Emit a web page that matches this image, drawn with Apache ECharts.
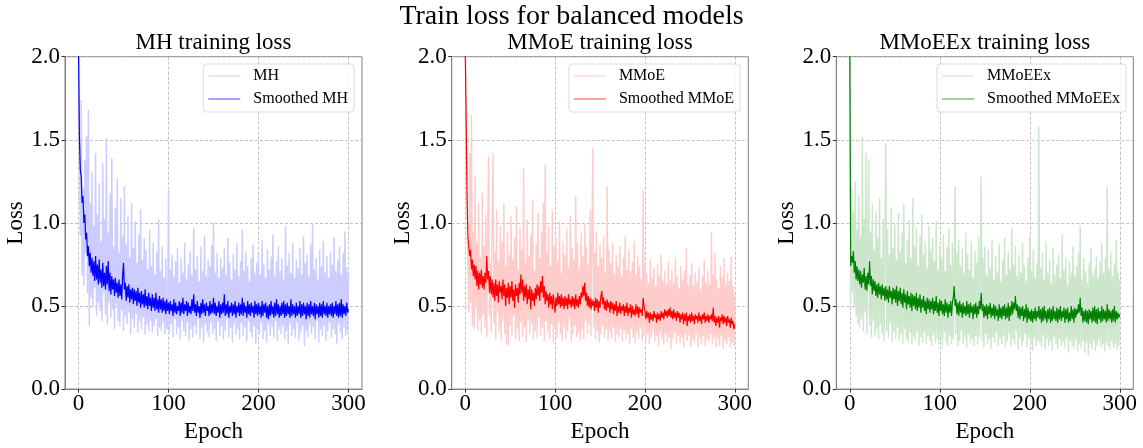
<!DOCTYPE html>
<html>
<head>
<meta charset="utf-8">
<title>Train loss for balanced models</title>
<script src="https://cdn.jsdelivr.net/npm/echarts@6/dist/echarts.min.js"></script>
<style>
  html, body { margin: 0; padding: 0; background: #fff; }
  #chart { width: 1143px; height: 448px; }
</style>
</head>
<body>
<div id="chart"></div>
<script>
// Per-epoch training loss (index = epoch, 0..300)
const epochTicks = [0, 100, 200, 300];
const lossTicks = [0, 0.5, 1.0, 1.5, 2.0];

const mhRaw = [
  2.40,
  1.45, 0.92, 1.74, 0.68, 1.21, 0.62, 1.38, 0.81, 1.52, 0.58,
  1.68, 0.38, 1.12, 0.55, 1.31, 0.49, 0.98, 0.61, 1.42, 0.44,
  1.05, 0.52, 1.24, 0.47, 0.89, 0.41, 1.36, 0.58, 1.02, 0.45,
  1.51, 0.39, 0.94, 0.52, 1.18, 0.43, 1.39, 0.48, 0.86, 0.36,
  1.09, 0.51, 1.27, 0.41, 0.82, 0.38, 1.15, 0.47, 0.92, 0.35,
  1.22, 0.44, 0.87, 0.39, 1.04, 0.46, 0.79, 0.33, 1.12, 0.42,
  0.85, 0.37, 1.01, 0.45, 0.76, 0.34, 0.93, 0.41, 1.08, 0.36,
  0.78, 0.43, 0.91, 0.33, 0.84, 0.39, 0.72, 0.35, 0.96, 0.41,
  0.74, 0.34, 0.88, 0.38, 0.69, 0.42, 0.83, 0.32, 1.02, 0.37,
  0.71, 0.35, 0.86, 0.40, 0.67, 0.33, 0.79, 0.38, 0.36, 1.20,
  0.34, 0.72, 0.39, 0.81, 0.31, 0.68, 0.42, 0.77, 0.33, 0.85,
  0.37, 0.64, 0.30, 0.79, 0.41, 0.70, 0.35, 0.88, 0.32, 0.66,
  0.40, 0.75, 0.29, 0.83, 0.36, 0.69, 0.31, 0.97, 0.38, 0.72,
  0.33, 0.80, 0.42, 0.65, 0.30, 0.86, 0.37, 0.71, 0.28, 0.92,
  0.39, 0.68, 0.34, 0.78, 0.31, 0.74, 0.40, 0.87, 0.33, 1.00,
  0.36, 0.70, 0.29, 0.82, 0.41, 0.67, 0.32, 0.79, 0.38, 0.73,
  0.30, 0.85, 0.35, 0.69, 0.42, 0.91, 0.31, 0.76, 0.37, 0.66,
  0.28, 0.81, 0.39, 0.72, 0.33, 0.88, 0.36, 0.68, 0.30, 0.77,
  0.40, 0.96, 0.32, 0.71, 0.37, 0.83, 0.29, 0.74, 0.41, 0.65,
  0.34, 0.79, 0.31, 0.87, 0.38, 0.70, 0.27, 0.76, 0.36, 0.82,
  0.33, 0.69, 0.40, 0.90, 0.30, 0.75, 0.35, 0.67, 0.28, 0.84,
  0.39, 0.72, 0.32, 0.80, 0.37, 0.93, 0.31, 0.68, 0.41, 0.77,
  0.29, 0.86, 0.36, 0.71, 0.33, 0.79, 0.38, 0.66, 0.30, 0.98,
  0.35, 0.74, 0.27, 0.82, 0.39, 0.70, 0.32, 0.88, 0.36, 0.67,
  0.31, 0.78, 0.40, 0.73, 0.29, 0.85, 0.34, 0.69, 0.38, 0.92,
  0.26, 0.76, 0.35, 0.81, 0.31, 0.68, 0.39, 0.87, 0.33, 0.99,
  0.37, 0.72, 0.30, 0.79, 0.41, 0.66, 0.28, 0.84, 0.36, 0.74,
  0.32, 0.89, 0.38, 0.70, 0.29, 0.80, 0.35, 0.67, 0.40, 0.83,
  0.31, 0.75, 0.36, 0.91, 0.33, 0.71, 0.27, 0.78, 0.39, 0.86,
  0.34, 0.69, 0.30, 0.82, 0.37, 0.95, 0.32, 0.73, 0.35, 0.70
];

const mhSmoothed = [
  2.05, 1.52, 1.32, 1.28, 1.12, 1.16, 1.00, 1.05, 0.90, 0.94, 0.80,
  0.86, 0.74, 0.82, 0.70, 0.79, 0.68, 0.77, 0.65, 0.80, 0.66,
  0.75, 0.63, 0.78, 0.64, 0.72, 0.61, 0.76, 0.62, 0.70, 0.60,
  0.74, 0.63, 0.77, 0.59, 0.70, 0.57, 0.68, 0.60, 0.66, 0.56,
  0.67, 0.58, 0.64, 0.55, 0.66, 0.56, 0.63, 0.54, 0.68, 0.76,
  0.60, 0.64, 0.53, 0.62, 0.55, 0.63, 0.52, 0.60, 0.54, 0.61,
  0.51, 0.60, 0.53, 0.59, 0.50, 0.61, 0.52, 0.58, 0.49, 0.59,
  0.51, 0.57, 0.49, 0.60, 0.50, 0.56, 0.48, 0.58, 0.50, 0.55,
  0.47, 0.57, 0.49, 0.55, 0.47, 0.58, 0.48, 0.54, 0.46, 0.56,
  0.48, 0.54, 0.46, 0.55, 0.47, 0.53, 0.45, 0.54, 0.47, 0.52,
  0.45, 0.53, 0.47, 0.51, 0.44, 0.54, 0.46, 0.52, 0.45, 0.50,
  0.47, 0.53, 0.44, 0.52, 0.46, 0.55, 0.45, 0.51, 0.47, 0.53,
  0.44, 0.52, 0.46, 0.50, 0.45, 0.54, 0.47, 0.57, 0.46, 0.51,
  0.44, 0.53, 0.46, 0.50, 0.43, 0.52, 0.45, 0.54, 0.46, 0.51,
  0.44, 0.52, 0.47, 0.50, 0.44, 0.53, 0.45, 0.51, 0.46, 0.55,
  0.45, 0.52, 0.44, 0.50, 0.46, 0.53, 0.43, 0.51, 0.45, 0.52,
  0.46, 0.57, 0.44, 0.51, 0.45, 0.53, 0.43, 0.50, 0.46, 0.52,
  0.44, 0.51, 0.45, 0.53, 0.43, 0.50, 0.46, 0.52, 0.44, 0.51,
  0.45, 0.55, 0.44, 0.52, 0.46, 0.50, 0.43, 0.53, 0.45, 0.51,
  0.44, 0.52, 0.46, 0.50, 0.43, 0.53, 0.45, 0.51, 0.44, 0.52,
  0.45, 0.50, 0.43, 0.53, 0.44, 0.51, 0.46, 0.52, 0.43, 0.50,
  0.42, 0.51, 0.44, 0.53, 0.45, 0.50, 0.43, 0.52, 0.44, 0.54,
  0.45, 0.51, 0.43, 0.50, 0.44, 0.52, 0.45, 0.53, 0.43, 0.51,
  0.44, 0.52, 0.45, 0.50, 0.43, 0.54, 0.44, 0.51, 0.45, 0.50,
  0.43, 0.52, 0.44, 0.50, 0.45, 0.53, 0.43, 0.51, 0.44, 0.52,
  0.45, 0.50, 0.42, 0.52, 0.44, 0.51, 0.43, 0.53, 0.45, 0.50,
  0.44, 0.52, 0.42, 0.51, 0.45, 0.50, 0.43, 0.52, 0.44, 0.51,
  0.43, 0.53, 0.45, 0.50, 0.44, 0.52, 0.43, 0.50, 0.45, 0.51,
  0.44, 0.52, 0.43, 0.50, 0.45, 0.53, 0.44, 0.51, 0.43, 0.52,
  0.44, 0.54, 0.43, 0.51, 0.45, 0.50, 0.44, 0.52, 0.46, 0.48
];

const mmoeRaw = [
  2.50,
  1.62, 1.18, 0.74, 0.46, 1.42, 0.52, 1.65, 0.38, 0.95, 0.36,
  1.28, 0.48, 0.88, 0.35, 1.12, 0.42, 0.79, 0.33, 1.18, 0.45,
  0.86, 0.37, 1.05, 0.31, 0.92, 1.40, 0.44, 0.76, 0.34, 1.02,
  1.42, 0.39, 0.83, 0.30, 1.08, 0.46, 0.77, 0.35, 0.98, 0.29,
  0.89, 0.41, 1.12, 0.33, 0.74, 0.27, 0.95, 0.26, 0.81, 0.38,
  1.04, 0.32, 0.78, 0.44, 0.91, 0.30, 1.10, 0.36, 0.72, 0.29,
  0.97, 0.40, 0.84, 0.31, 1.33, 0.37, 0.76, 0.28, 1.02, 0.42,
  0.80, 0.33, 0.93, 0.39, 1.14, 0.30, 0.71, 0.35, 0.88, 0.31,
  1.06, 0.43, 0.79, 0.32, 0.95, 0.37, 1.12, 0.29, 1.35, 0.41,
  0.82, 0.34, 0.98, 0.30, 0.74, 0.39, 1.07, 0.28, 0.86, 0.36,
  0.92, 0.31, 0.77, 0.40, 1.01, 0.33, 0.70, 0.29, 0.89, 0.37,
  0.81, 0.30, 0.96, 0.35, 0.73, 0.42, 1.04, 0.28, 0.85, 0.33,
  0.78, 0.38, 1.16, 0.31, 0.88, 0.34, 0.72, 0.29, 0.94, 0.36,
  0.80, 0.30, 0.99, 0.41, 0.86, 0.33, 0.75, 0.39, 1.08, 0.32,
  0.91, 1.45, 0.37, 0.82, 0.30, 0.95, 0.35, 0.74, 0.28, 0.87,
  0.33, 0.79, 0.38, 0.92, 0.31, 0.70, 0.36, 1.22, 0.29, 0.84,
  0.34, 0.76, 0.30, 0.88, 0.37, 0.69, 0.28, 0.81, 0.33, 0.74,
  0.31, 0.86, 0.36, 0.68, 0.29, 0.79, 0.35, 0.92, 0.30, 0.72,
  0.33, 0.84, 0.27, 0.71, 0.36, 0.77, 0.31, 0.89, 0.28, 0.69,
  0.34, 0.80, 0.30, 0.74, 0.37, 0.66, 0.29, 1.20, 0.32, 0.76,
  0.28, 0.70, 0.33, 0.64, 0.27, 0.78, 0.31, 0.67, 0.35, 0.73,
  0.29, 0.62, 0.32, 0.75, 0.26, 0.68, 0.34, 0.81, 0.30, 0.65,
  0.27, 0.71, 0.33, 0.63, 0.28, 0.77, 0.31, 0.66, 0.24, 0.72,
  0.30, 0.64, 0.34, 0.79, 0.27, 0.68, 0.32, 0.61, 0.28, 0.74,
  0.31, 0.66, 0.25, 0.71, 0.33, 0.85, 0.29, 0.63, 0.32, 0.69,
  0.26, 0.76, 0.30, 0.62, 0.28, 0.70, 0.33, 0.65, 0.25, 0.73,
  0.31, 0.60, 0.27, 0.68, 0.32, 0.78, 0.26, 0.64, 0.30, 0.71,
  0.28, 0.63, 0.33, 0.95, 0.27, 0.69, 0.31, 0.82, 0.25, 0.66,
  0.30, 0.61, 0.26, 0.74, 0.32, 0.67, 0.24, 0.79, 0.29, 0.63,
  0.27, 0.70, 0.31, 0.65, 0.25, 0.80, 0.28, 0.62, 0.26, 0.58
];

const mmoeSmoothed = [
  2.05, 1.65, 1.20, 0.92, 0.86, 0.80, 0.84, 0.72, 0.78, 0.68, 0.75,
  0.66, 0.74, 0.62, 0.71, 0.60, 0.70, 0.63, 0.72, 0.61, 0.68,
  0.60, 0.70, 0.64, 0.80, 0.66, 0.71, 0.58, 0.68, 0.57, 0.66,
  0.55, 0.64, 0.53, 0.66, 0.56, 0.63, 0.52, 0.65, 0.58, 0.62,
  0.54, 0.66, 0.56, 0.63, 0.50, 0.61, 0.55, 0.64, 0.51, 0.62,
  0.55, 0.65, 0.53, 0.60, 0.49, 0.63, 0.56, 0.61, 0.52, 0.64,
  0.57, 0.69, 0.58, 0.66, 0.53, 0.62, 0.55, 0.63, 0.51, 0.60,
  0.54, 0.62, 0.48, 0.60, 0.53, 0.58, 0.50, 0.61, 0.54, 0.63,
  0.56, 0.62, 0.53, 0.65, 0.58, 0.68, 0.55, 0.62, 0.51, 0.59,
  0.53, 0.57, 0.49, 0.58, 0.51, 0.56, 0.48, 0.57, 0.52, 0.46,
  0.55, 0.50, 0.58, 0.51, 0.56, 0.49, 0.57, 0.50, 0.55, 0.48,
  0.56, 0.50, 0.55, 0.48, 0.57, 0.51, 0.54, 0.49, 0.56, 0.50,
  0.55, 0.48, 0.57, 0.50, 0.54, 0.49, 0.56, 0.51, 0.58, 0.55,
  0.62, 0.56, 0.64, 0.53, 0.58, 0.50, 0.56, 0.49, 0.55, 0.48,
  0.54, 0.50, 0.53, 0.47, 0.55, 0.49, 0.54, 0.46, 0.53, 0.49,
  0.56, 0.59, 0.51, 0.55, 0.48, 0.53, 0.47, 0.54, 0.49, 0.52,
  0.46, 0.53, 0.48, 0.52, 0.45, 0.51, 0.47, 0.53, 0.44, 0.50,
  0.46, 0.52, 0.45, 0.50, 0.47, 0.51, 0.44, 0.50, 0.46, 0.52,
  0.44, 0.49, 0.46, 0.51, 0.43, 0.50, 0.45, 0.48, 0.44, 0.51,
  0.45, 0.50, 0.43, 0.49, 0.46, 0.48, 0.44, 0.55, 0.50, 0.47,
  0.42, 0.47, 0.43, 0.46, 0.40, 0.46, 0.42, 0.45, 0.41, 0.47,
  0.43, 0.45, 0.40, 0.46, 0.42, 0.45, 0.41, 0.47, 0.43, 0.46,
  0.42, 0.48, 0.44, 0.47, 0.43, 0.48, 0.44, 0.49, 0.43, 0.47,
  0.42, 0.48, 0.43, 0.46, 0.41, 0.47, 0.43, 0.46, 0.40, 0.45,
  0.42, 0.46, 0.39, 0.45, 0.41, 0.46, 0.38, 0.44, 0.41, 0.45,
  0.40, 0.46, 0.41, 0.44, 0.39, 0.45, 0.42, 0.44, 0.40, 0.46,
  0.41, 0.44, 0.39, 0.45, 0.42, 0.46, 0.40, 0.44, 0.41, 0.45,
  0.40, 0.44, 0.42, 0.45, 0.41, 0.49, 0.40, 0.44, 0.38, 0.43,
  0.40, 0.44, 0.37, 0.43, 0.41, 0.45, 0.39, 0.44, 0.40, 0.43,
  0.38, 0.44, 0.40, 0.42, 0.37, 0.43, 0.39, 0.41, 0.36, 0.39
];

const mmoeexRaw = [
  2.45,
  0.52, 1.21, 0.58, 1.08, 0.49, 1.25, 0.44, 0.96, 0.39, 1.17,
  0.37, 0.92, 0.42, 1.52, 0.35, 1.03, 0.46, 1.42, 0.33, 0.88,
  1.38, 0.38, 0.95, 0.31, 1.12, 0.41, 0.84, 0.32, 1.07, 0.36,
  0.91, 0.30, 1.15, 0.39, 0.79, 0.33, 1.02, 0.29, 0.87, 1.48,
  0.35, 0.96, 0.31, 0.81, 0.40, 1.09, 0.28, 0.85, 0.34, 0.99,
  0.30, 0.78, 0.37, 1.06, 0.29, 0.83, 0.33, 0.94, 0.27, 1.11,
  0.36, 0.76, 0.30, 0.90, 0.28, 1.02, 0.34, 0.79, 0.27, 1.15,
  0.32, 0.86, 0.29, 0.97, 0.35, 0.74, 0.26, 0.92, 0.31, 1.05,
  0.28, 0.81, 0.34, 0.89, 0.27, 0.73, 0.32, 0.98, 0.29, 0.84,
  0.26, 0.91, 0.33, 0.77, 0.28, 1.01, 0.30, 0.72, 0.27, 0.87,
  0.31, 0.79, 0.25, 0.93, 0.34, 0.71, 0.28, 0.86, 0.26, 0.97,
  0.32, 0.75, 0.27, 0.88, 0.30, 0.69, 1.22, 0.33, 0.82, 0.26,
  0.90, 0.29, 0.74, 0.35, 0.85, 0.27, 0.70, 0.31, 0.94, 0.25,
  0.81, 0.33, 0.72, 0.28, 0.89, 0.30, 0.67, 0.26, 0.83, 0.32,
  0.76, 0.27, 0.92, 0.31, 0.70, 1.28, 0.29, 0.79, 0.25, 0.86,
  0.33, 0.68, 0.27, 0.84, 0.30, 0.73, 0.24, 0.90, 0.31, 0.66,
  0.28, 0.80, 0.34, 0.71, 0.26, 0.87, 0.30, 0.65, 0.27, 0.78,
  0.32, 0.91, 0.25, 0.69, 0.29, 0.83, 0.33, 0.72, 0.26, 0.97,
  0.30, 0.75, 0.27, 0.86, 0.35, 0.68, 0.24, 0.81, 0.31, 0.70,
  0.26, 0.88, 0.29, 0.74, 0.33, 0.65, 0.25, 0.79, 0.30, 0.92,
  0.27, 0.71, 0.23, 0.84, 0.31, 0.67, 0.26, 0.76, 0.29, 1.58,
  0.28, 0.73, 0.25, 0.82, 0.32, 0.66, 0.24, 0.89, 0.30, 0.70,
  0.26, 0.78, 0.29, 0.64, 0.23, 0.85, 0.31, 0.69, 0.27, 0.75,
  0.24, 0.81, 0.30, 0.67, 0.26, 0.93, 0.28, 0.72, 0.25, 0.79,
  0.31, 0.63, 0.22, 0.77, 0.29, 0.70, 0.26, 0.86, 0.24, 0.68,
  0.30, 0.74, 0.23, 0.82, 0.27, 0.98, 0.25, 0.66, 0.29, 0.79,
  0.22, 0.71, 0.28, 0.64, 0.20, 0.76, 0.27, 0.85, 0.24, 0.69,
  0.29, 0.73, 0.23, 0.80, 0.26, 0.67, 0.30, 0.77, 0.25, 0.88,
  0.27, 0.70, 0.23, 0.79, 0.28, 1.22, 0.26, 0.72, 0.24, 0.83,
  0.29, 0.68, 0.25, 0.76, 0.27, 0.90, 0.24, 0.71, 0.26, 0.66
];

const mmoeexSmoothed = [
  2.05, 0.74, 0.80, 0.76, 0.83, 0.70, 0.77, 0.66, 0.74, 0.65, 0.72,
  0.63, 0.71, 0.61, 0.69, 0.64, 0.73, 0.60, 0.68, 0.59, 0.70,
  0.63, 0.77, 0.62, 0.68, 0.57, 0.66, 0.59, 0.65, 0.56, 0.63,
  0.55, 0.64, 0.57, 0.62, 0.54, 0.63, 0.56, 0.61, 0.53, 0.62,
  0.54, 0.60, 0.52, 0.62, 0.55, 0.59, 0.51, 0.61, 0.54, 0.60,
  0.52, 0.62, 0.50, 0.59, 0.53, 0.61, 0.51, 0.58, 0.49, 0.60,
  0.52, 0.57, 0.48, 0.59, 0.51, 0.56, 0.49, 0.58, 0.47, 0.57,
  0.50, 0.56, 0.48, 0.58, 0.47, 0.55, 0.49, 0.57, 0.46, 0.54,
  0.49, 0.56, 0.47, 0.53, 0.45, 0.55, 0.48, 0.54, 0.46, 0.53,
  0.48, 0.55, 0.45, 0.53, 0.47, 0.56, 0.46, 0.52, 0.44, 0.54,
  0.47, 0.53, 0.45, 0.51, 0.44, 0.54, 0.46, 0.52, 0.43, 0.51,
  0.46, 0.53, 0.44, 0.52, 0.55, 0.62, 0.50, 0.54, 0.45, 0.52,
  0.44, 0.53, 0.46, 0.51, 0.43, 0.52, 0.45, 0.50, 0.44, 0.53,
  0.45, 0.51, 0.43, 0.52, 0.46, 0.50, 0.42, 0.51, 0.45, 0.52,
  0.43, 0.50, 0.45, 0.53, 0.48, 0.58, 0.47, 0.51, 0.43, 0.50,
  0.44, 0.51, 0.42, 0.50, 0.45, 0.52, 0.43, 0.49, 0.44, 0.51,
  0.42, 0.50, 0.44, 0.48, 0.41, 0.51, 0.43, 0.49, 0.42, 0.50,
  0.44, 0.51, 0.42, 0.49, 0.43, 0.52, 0.41, 0.50, 0.44, 0.53,
  0.45, 0.52, 0.48, 0.56, 0.47, 0.51, 0.43, 0.50, 0.42, 0.49,
  0.44, 0.50, 0.41, 0.48, 0.43, 0.51, 0.40, 0.49, 0.42, 0.47,
  0.41, 0.48, 0.40, 0.47, 0.42, 0.49, 0.41, 0.47, 0.43, 0.50,
  0.42, 0.48, 0.40, 0.49, 0.41, 0.50, 0.42, 0.47, 0.40, 0.48,
  0.42, 0.49, 0.40, 0.48, 0.41, 0.50, 0.42, 0.47, 0.41, 0.49,
  0.40, 0.48, 0.42, 0.50, 0.41, 0.47, 0.43, 0.49, 0.40, 0.48,
  0.42, 0.49, 0.40, 0.46, 0.41, 0.50, 0.42, 0.48, 0.40, 0.49,
  0.43, 0.48, 0.45, 0.51, 0.46, 0.55, 0.44, 0.49, 0.40, 0.47,
  0.41, 0.48, 0.40, 0.47, 0.39, 0.48, 0.42, 0.47, 0.40, 0.49,
  0.41, 0.50, 0.40, 0.48, 0.39, 0.49, 0.42, 0.47, 0.40, 0.50,
  0.41, 0.48, 0.42, 0.47, 0.40, 0.51, 0.41, 0.48, 0.42, 0.47,
  0.40, 0.48, 0.41, 0.50, 0.40, 0.47, 0.42, 0.46, 0.43, 0.45
];

// Layout and styling for the three panels
const FONT = '"Liberation Serif", "Times New Roman", serif';
const panels = [
  { title: 'MH training loss', raw: mhRaw, smooth: mhSmoothed,
    rawName: 'MH', smoothName: 'Smoothed MH',
    rawColor: '#ccccff', lineColor: '#0000ff', legendRaw: '#dcdcff', legendSmooth: '#8080ff',
    left: 65, width: 297, legendRight: 789 },
  { title: 'MMoE training loss', raw: mmoeRaw, smooth: mmoeSmoothed,
    rawName: 'MMoE', smoothName: 'Smoothed MMoE',
    rawColor: '#ffcccc', lineColor: '#ff0000', legendRaw: '#ffdcdc', legendSmooth: '#ff8080',
    left: 451.7, width: 296.6, legendRight: 403 },
  { title: 'MMoEEx training loss', raw: mmoeexRaw, smooth: mmoeexSmoothed,
    rawName: 'MMoEEx', smoothName: 'Smoothed MMoEEx',
    rawColor: '#cce6cc', lineColor: '#008000', legendRaw: '#dcecdc', legendSmooth: '#80c080',
    left: 836.3, width: 297, legendRight: 17 }
];

const GRID_TOP = 56.7, GRID_H = 340;
const toPoints = arr => arr.map((v, i) => [i, v]);
const gridLine = { show: true, lineStyle: { color: '#b0b0b0', type: [3, 2], width: 0.8 } };
const axisColor = '#808080';

const option = {
  animation: false,
  backgroundColor: '#ffffff',
  textStyle: { fontFamily: FONT },
  graphic: [
    { type: 'text', x: 571.5, y: 17, silent: true,
      style: { text: 'Train loss for balanced models', font: '28px ' + FONT,
               fill: '#000', textAlign: 'center', textVerticalAlign: 'middle' } }
  ].concat(panels.map(p => ({
    type: 'text', x: p.left + p.width / 2, y: 43, silent: true,
    style: { text: p.title, font: '23px ' + FONT, fill: '#000',
             textAlign: 'center', textVerticalAlign: 'middle' }
  }))),
  grid: panels.map(p => ({
    left: p.left, width: p.width, top: GRID_TOP, height: GRID_H,
    show: true, borderColor: axisColor, borderWidth: 1, backgroundColor: 'transparent'
  })),
  xAxis: panels.map((p, i) => ({
    type: 'value', gridIndex: i, min: -15, max: 315,
    name: 'Epoch', nameLocation: 'middle', nameGap: 22,
    nameTextStyle: { fontFamily: FONT, fontSize: 23, color: '#000' },
    axisLine: { show: true, onZero: false, lineStyle: { color: axisColor } },
    axisTick: { show: true, length: 3.5, customValues: epochTicks, lineStyle: { color: '#333' } },
    axisLabel: { customValues: epochTicks, fontFamily: FONT, fontSize: 23, color: '#000', margin: 3 },
    splitLine: gridLine
  })),
  yAxis: panels.map((p, i) => ({
    type: 'value', gridIndex: i, min: 0, max: 2, interval: 0.5,
    name: 'Loss', nameLocation: 'middle', nameGap: 33, nameRotate: 90,
    nameTextStyle: { fontFamily: FONT, fontSize: 23, color: '#000' },
    axisLine: { show: true, onZero: false, lineStyle: { color: axisColor } },
    axisTick: { show: true, length: 3.5, lineStyle: { color: '#333' } },
    axisLabel: { fontFamily: FONT, fontSize: 23, color: '#000', margin: 5,
                 formatter: v => lossTicks.includes(v) ? v.toFixed(1) : '' },
    splitLine: gridLine
  })),
  legend: panels.map(p => ({
    orient: 'vertical', right: p.legendRight, top: 64,
    itemWidth: 32, itemHeight: 16, itemGap: 7,
    icon: 'path://M0,0H32V1.5H0Z', symbolKeepAspect: true,
    padding: [4, 6, 5, 5],
    borderColor: '#dcdcdc', borderWidth: 1, borderRadius: 3,
    backgroundColor: 'rgba(255,255,255,0.8)',
    selectedMode: false,
    textStyle: { fontFamily: FONT, fontSize: 16, color: '#000', lineHeight: 16, padding: [0, 0, 0, 8] },
    data: [
      { name: p.rawName, itemStyle: { color: p.legendRaw } },
      { name: p.smoothName, itemStyle: { color: p.legendSmooth } }
    ]
  })),
  series: panels.flatMap((p, i) => [
    { name: p.rawName, type: 'line', xAxisIndex: i, yAxisIndex: i,
      data: toPoints(p.raw), showSymbol: false, symbol: 'none', silent: true, z: 2,
      lineStyle: { color: p.rawColor, width: 1.4 }, itemStyle: { color: p.rawColor },
      emphasis: { disabled: true } },
    { name: p.smoothName, type: 'line', xAxisIndex: i, yAxisIndex: i,
      data: toPoints(p.smooth), showSymbol: false, symbol: 'none', silent: true, z: 3,
      lineStyle: { color: p.lineColor, width: 1.2 }, itemStyle: { color: p.lineColor },
      emphasis: { disabled: true } }
  ])
};

const chart = echarts.init(document.getElementById('chart'), null, { renderer: 'canvas' });
chart.setOption(option);
</script>
</body>
</html>
